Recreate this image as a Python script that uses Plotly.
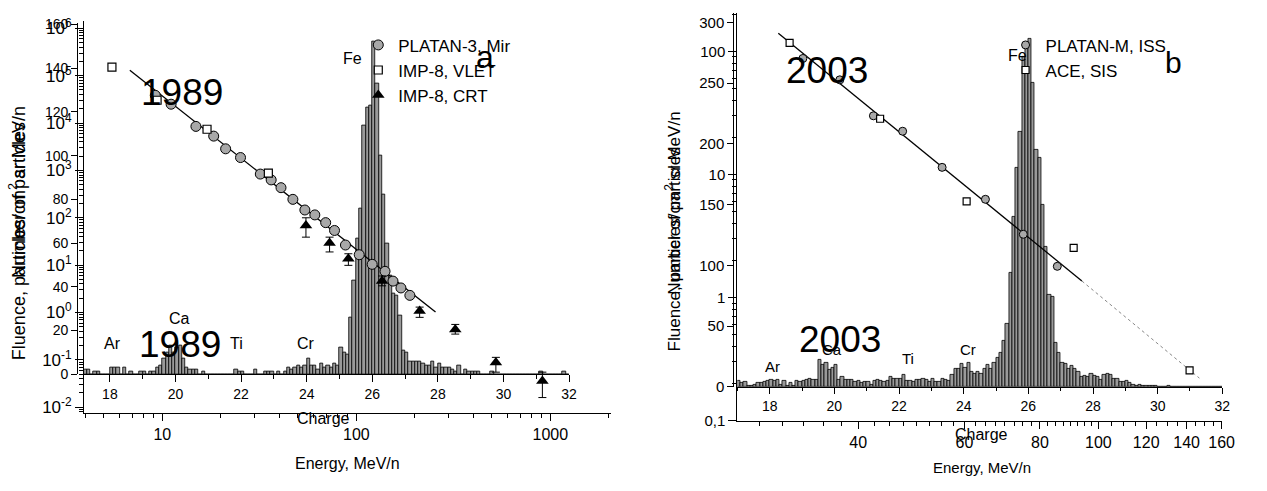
import numpy as np
import plotly.graph_objects as go

W, H = 1267, 491
FONT = "Liberation Sans, Arial, sans-serif"


def px(x):
    return x / W


def py(y):
    return 1 - y / H


# ————————————————
# Panel a (1989): charge histogram, bins of 0.1 starting at 17.2
hist_a_start = 17.2
hist_a_counts = [
    2, 2, 0, 1, 1, 0, 0, 0,                      # 17.2 - 17.9
    3, 3, 3, 0, 3, 0, 1, 0, 0, 1,                # 18.0 - 18.9
    1, 0, 1, 1, 3, 4, 7, 10, 13, 10,             # 19.0 - 19.9
    12, 13, 7, 3, 2, 2, 2, 0, 1, 0,              # 20.0 - 20.9
    0, 0, 0, 0, 0, 0, 0, 0, 2, 1,                # 21.0 - 21.9
    1, 0, 0, 0, 2, 0, 0, 1, 1, 1,                # 22.0 - 22.9
    0, 1, 0, 1, 3, 2, 3, 4, 3, 4,                # 23.0 - 23.9
    7, 4, 4, 2, 5, 3, 4, 3, 5, 4,                # 24.0 - 24.9
    12, 10, 9, 26, 43, 62, 76, 114, 122, 123,    # 25.0 - 25.9
    152, 133, 100, 82, 60, 45, 37, 36, 27, 11,   # 26.0 - 26.9
    10, 6, 6, 6, 6, 5, 4, 4, 6, 3,               # 27.0 - 27.9
    5, 3, 3, 3, 2, 1, 4, 0, 2, 1,                # 28.0 - 28.9
    1, 1, 1, 0, 0, 0, 1, 0, 0, 0,                # 29.0 - 29.9
    0, 0, 0, 0, 0, 0, 0, 0, 0, 0,                # 30.0 - 30.9
    0, 1, 0, 0, 0, 0, 0, 0, 1, 0,                # 31.0 - 31.9
]

# fluence points, panel a
platan3_energy = [9.2, 11.1, 14.9, 18.4, 21.2, 25.3, 32.0, 36.4, 40.9, 47.1, 54.3,
                  61.1, 69.5, 77.2, 87.9, 103.5, 120.7, 140.6, 154.5, 169.8, 188.8]
platan3_fluence = [3.85e4, 2.5e4, 8.5e3, 5.3e3, 2.86e3, 1.87e3, 838, 631, 432, 245, 146,
                   115, 79, 54, 26.6, 16.6, 10.4, 7.4, 4.6, 3.3, 2.3]
vlet_energy = [5.5, 9.4, 17.0, 35.2]
vlet_fluence = [1.51e5, 3.03e4, 7.4e3, 880]
crt_energy = [55, 72.8, 91, 135.8, 212, 323.6, 524, 910]
crt_fluence = [68.5, 29.3, 13.7, 4.6, 1.07, 0.44, 0.088, 0.0358]
crt_high = [100, 39, 17.4, 5.9, 1.3, 0.56, 0.113, 0.055]
crt_low = [39, 19, 9.9, 3.66, 0.79, 0.35, 0.055, 0.016]
fit_a_energy = [6.8, 256]
fit_a_fluence = [1.31e5, 1.02]

# ————————————————
# Panel b (2003): charge histogram, bins of 0.1 starting at 17.0
hist_b_start = 17.0
hist_b_counts = [
    5, 3, 4, 1, 1, 2, 3, 3, 4, 5,                # 17.0 - 17.9
    6, 5, 6, 2, 5, 1, 3, 1, 5, 4,                # 18.0 - 18.9
    5, 6, 7, 6, 6, 22, 18, 20, 14, 16,           # 19.0 - 19.9
    18, 6, 8, 6, 6, 6, 4, 5, 3, 4,               # 20.0 - 20.9
    4, 2, 5, 6, 5, 4, 5, 8, 7, 7,                # 21.0 - 21.9
    7, 10, 5, 5, 4, 6, 6, 7, 6, 4,               # 22.0 - 22.9
    7, 4, 4, 7, 6, 5, 10, 15, 15, 19,            # 23.0 - 23.9
    16, 20, 12, 11, 12, 11, 15, 18, 15, 20,      # 24.0 - 24.9
    24, 28, 38, 52, 94, 140, 180, 210, 272, 280, # 25.0 - 25.9
    287, 250, 195, 189, 150, 115, 76, 74, 36, 28,# 26.0 - 26.9
    20, 19, 15, 17, 15, 12, 8, 9, 8, 11,         # 27.0 - 27.9
    9, 8, 6, 10, 11, 10, 7, 7, 4, 4,             # 28.0 - 28.9
    5, 3, 2, 1, 2, 1, 1, 1, 1, 1,                # 29.0 - 29.9
    0, 0, 0, 0.5, 0, 0, 0, 0, 0, 0,              # 30.0 - 30.9
    0, 0, 0, 0, 0, 0, 0, 0, 0, 0,                # 31.0 - 31.9
]

platanm_energy = [32.4, 37.3, 42.4, 47.4, 55.1, 65.0, 75.1, 85.5]
platanm_fluence = [87.4, 58.6, 29.9, 22.4, 11.4, 6.27, 3.26, 1.79]
ace_energy = [30.8, 43.5, 60.5, 91, 141.6]
ace_fluence = [117, 28.3, 6.04, 2.53, 0.256]
fit_b_energy = [29.5, 93.9]
fit_b_fluence = [140, 1.36]
ext_b_energy = [93.9, 147]
ext_b_fluence = [1.36, 0.221]

# ————————————————
BAR_FILL = "#9a9a9a"
DOT_FILL = "#a8a8a8"

fig = go.Figure()

charge_a = [round(hist_a_start + 0.05 + 0.1 * i, 2) for i in range(len(hist_a_counts))]
charge_b = [round(hist_b_start + 0.05 + 0.1 * i, 2) for i in range(len(hist_b_counts))]

fig.add_trace(go.Bar(x=charge_a, y=hist_a_counts, width=0.1, xaxis="x", yaxis="y",
                     marker=dict(color=BAR_FILL, line=dict(color="black", width=0.8)),
                     showlegend=False, hoverinfo="skip"))

fig.add_trace(go.Scatter(x=fit_a_energy, y=fit_a_fluence, xaxis="x2", yaxis="y2",
                         mode="lines", line=dict(color="black", width=1.3),
                         showlegend=False))
fig.add_trace(go.Scatter(x=platan3_energy, y=platan3_fluence, xaxis="x2", yaxis="y2",
                         mode="markers", name="PLATAN-3, Mir", legend="legend",
                         marker=dict(symbol="circle", size=10, color=DOT_FILL,
                                     line=dict(color="black", width=1))))
fig.add_trace(go.Scatter(x=vlet_energy, y=vlet_fluence, xaxis="x2", yaxis="y2",
                         mode="markers", name="IMP-8, VLET", legend="legend",
                         marker=dict(symbol="square", size=8, color="white",
                                     line=dict(color="black", width=1.2))))
crt_up = (np.array(crt_high) - np.array(crt_fluence)).tolist()
crt_dn = (np.array(crt_fluence) - np.array(crt_low)).tolist()
fig.add_trace(go.Scatter(x=crt_energy, y=crt_fluence, xaxis="x2", yaxis="y2",
                         mode="markers", name="IMP-8, CRT", legend="legend",
                         marker=dict(symbol="triangle-up", size=11, color="black"),
                         error_y=dict(type="data", symmetric=False, array=crt_up,
                                      arrayminus=crt_dn, color="black",
                                      thickness=1, width=4)))

fig.add_trace(go.Bar(x=charge_b, y=hist_b_counts, width=0.1, xaxis="x3", yaxis="y3",
                     marker=dict(color=BAR_FILL, line=dict(color="black", width=0.8)),
                     showlegend=False, hoverinfo="skip"))

fig.add_trace(go.Scatter(x=fit_b_energy, y=fit_b_fluence, xaxis="x4", yaxis="y4",
                         mode="lines", line=dict(color="black", width=1.3),
                         showlegend=False))
fig.add_trace(go.Scatter(x=ext_b_energy, y=ext_b_fluence, xaxis="x4", yaxis="y4",
                         mode="lines", line=dict(color="#888888", width=1, dash="dot"),
                         showlegend=False))
fig.add_trace(go.Scatter(x=platanm_energy, y=platanm_fluence, xaxis="x4", yaxis="y4",
                         mode="markers", name="PLATAN-M, ISS", legend="legend2",
                         marker=dict(symbol="circle", size=8, color=DOT_FILL,
                                     line=dict(color="black", width=1))))
fig.add_trace(go.Scatter(x=ace_energy, y=ace_fluence, xaxis="x4", yaxis="y4",
                         mode="markers", name="ACE, SIS", legend="legend2",
                         marker=dict(symbol="square", size=7, color="white",
                                     line=dict(color="black", width=1.2))))

# ————————————————
# axes
def log_minor(lo, hi):
    vals = []
    for k in range(lo, hi + 1):
        for m in range(2, 10):
            vals.append(m * 10.0 ** k)
    return vals


def tfont(size):
    return dict(family=FONT, size=size, color="black")


axis_common = dict(showline=True, linecolor="black", linewidth=1.2, showgrid=False,
                   zeroline=False, ticks="outside", tickcolor="black")

pow_vals = [10.0 ** k for k in range(-2, 7)]
pow_text = ["10<sup>%d</sup>" % k for k in range(-2, 7)]

b_minor = [27.5, 30, 32.5, 35, 37.5, 42.5, 45, 47.5, 50, 52.5, 55, 57.5, 62.5, 65, 67.5,
           70, 72.5, 75, 77.5, 82.5, 85, 87.5, 90, 92.5, 95, 97.5, 105, 110, 115, 125,
           130, 135, 145, 150, 155]

fig.update_layout(
    xaxis=dict(**axis_common, tickfont=tfont(14), domain=[px(85), px(575)],
               range=[17.215, 32.0], anchor="y",
               tickmode="linear", tick0=18, dtick=2, ticklen=7,
               minor=dict(ticks="outside", ticklen=4, tick0=17, dtick=1, tickcolor="black")),
    yaxis=dict(**axis_common, tickfont=tfont(14), domain=[py(379), py(17)],
               range=[0, 160.9], anchor="free",
               position=px(78), tickmode="linear", tick0=0, dtick=20, ticklen=6),
    xaxis2=dict(**axis_common, tickfont=tfont(16),
                type="log", domain=[px(85), px(617)], range=[0.597, 3.311], anchor="y2",
                tickvals=[10, 100, 1000], ticktext=["10", "100", "1000"], ticklen=7,
                minor=dict(ticks="outside", ticklen=4, tickcolor="black",
                           tickvals=log_minor(0, 3))),
    yaxis2=dict(**axis_common, tickfont=tfont(17),
                type="log", domain=[py(419), py(15)], range=[-2.123, 6.164], anchor="x2",
                tickvals=pow_vals, ticktext=pow_text, ticklen=8,
                minor=dict(ticks="outside", ticklen=4, tickcolor="black",
                           tickvals=log_minor(-3, 6))),
    xaxis3=dict(**axis_common, tickfont=tfont(14), domain=[px(745), px(1235)],
                range=[17.0, 32.0], anchor="y3",
                tickmode="linear", tick0=18, dtick=2, ticklen=6,
                minor=dict(ticks="outside", ticklen=3, tick0=17, dtick=1, tickcolor="black")),
    yaxis3=dict(**axis_common, tickfont=tfont(15), domain=[py(392), py(7)],
                range=[0, 308], anchor="free",
                position=px(741), tickmode="linear", tick0=0, dtick=50, ticklen=6),
    xaxis4=dict(**axis_common, tickfont=tfont(16),
                type="log", domain=[px(745), px(1235)], range=[1.402, 2.2053], anchor="y4",
                tickvals=[40, 60, 80, 100, 120, 140, 160],
                ticktext=["40", "60", "80", "100", "120", "140", "160"], ticklen=7,
                minor=dict(ticks="outside", ticklen=4, tickcolor="black", tickvals=b_minor)),
    yaxis4=dict(**axis_common, tickfont=tfont(15),
                type="log", domain=[py(427), py(7)], range=[-1.0024, 2.3125], anchor="x4",
                tickvals=[0.1, 1, 10, 100], ticktext=["0,1", "1", "10", "100"], ticklen=8,
                minor=dict(ticks="outside", ticklen=4, tickcolor="black",
                           tickvals=log_minor(-1, 2))),
)

legend_common = dict(xanchor="left", yanchor="top", bgcolor="rgba(0,0,0,0)",
                     borderwidth=0, font=tfont(17), traceorder="normal")
fig.update_layout(
    legend=dict(**legend_common, x=px(362), y=py(22)),
    legend2=dict(**legend_common, x=px(1016), y=py(22)),
)

# ————————————————
# texts
def note(text, x, y, size=16, angle=0):
    fig.add_annotation(text=text, x=px(x), y=py(y), xref="paper", yref="paper",
                       showarrow=False, textangle=angle, xanchor="center", yanchor="middle",
                       font=tfont(size))


note("1989", 184, 89, 37)
note("1989", 182, 348, 37)
note("a", 490, 52, 32)
note("Fe", 356, 54)
note("Ar", 114, 347)
note("Ca", 181, 322)
note("Ti", 239, 347)
note("Cr", 309, 347)
note("Charge", 327, 425)
note("Energy, MeV/n", 351, 471)
note("Fluence, particles/cm<sup>2</sup> sr MeV/n", 18, 234, 18, -90)
note("Number of particles", 20, 200, 18, -90)

note("2003", 836, 66, 37)
note("2003", 849, 343, 37)
note("b", 1186, 58, 30)
note("Fe", 1028, 51)
note("Ar", 781, 371, 15)
note("Ca", 841, 354, 15)
note("Ti", 917, 363, 15)
note("Cr", 978, 354, 15)
note("Charge", 992, 441)
note("Energy, MeV/n", 992, 475, 15)
note("Fluence, particles/cm<sup>2</sup> sr MeV/n", 680, 232, 17, -90)
note("Number of particles", 682, 222, 17, -90)

fig.update_layout(
    width=W, height=H,
    margin=dict(l=0, r=0, t=0, b=0),
    paper_bgcolor="white", plot_bgcolor="rgba(0,0,0,0)",
    bargap=0, barmode="overlay",
    font=dict(family=FONT, color="black"),
)

# the page body has a default 8px margin; drop it so the figure sits at the window corner
fig.write_html("out.html", config={"displayModeBar": False},
               post_script="document.body.style.margin='0';")
